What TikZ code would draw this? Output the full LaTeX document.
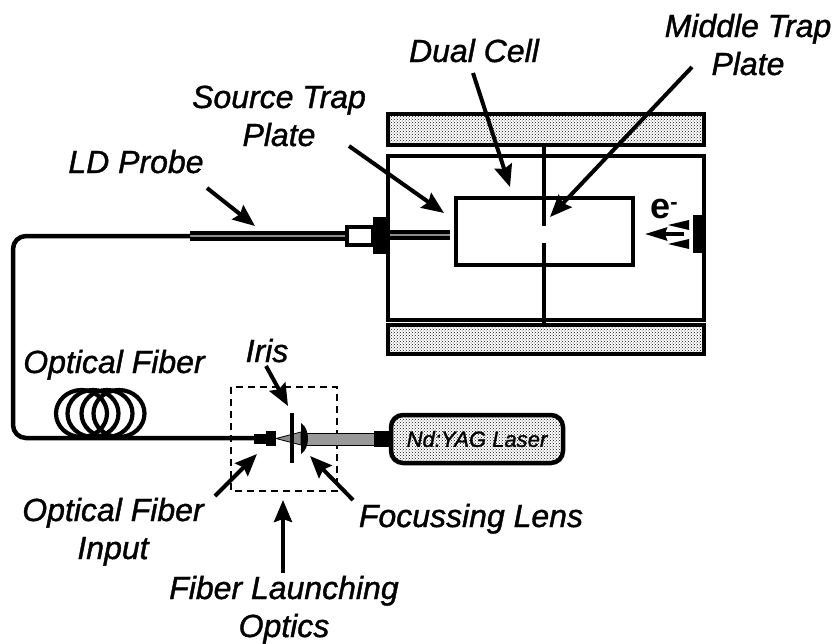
\documentclass[tikz,border=0pt]{standalone}
\usepackage{fontspec}
\usepackage{tikz}
\usetikzlibrary{arrows.meta}
\usetikzlibrary{patterns}
\newfontfamily\lblfont[FakeBold=1.2]{Liberation Sans Italic}
\newfontfamily\efont{Liberation Sans Bold}

\tikzset{
	lbl/.style={inner sep=0pt,align=center,font=\lblfont\fontsize{32}{38}\selectfont},
	pointer/.style={line width=4pt,-{Stealth[length=22pt,width=18pt,inset=3pt]}},
	wall/.style={line width=4.5pt},
	dotfill/.style={pattern=crosshatch dots,pattern color=black!95}
}

\begin{document}
\begin{tikzpicture}[x=1pt,y=-1pt]
	\useasboundingbox (0,0) rectangle (835,643);

	% magnets and chamber
	\foreach \top/\bottom in {114/145, 325/354} {
		\draw[wall,dotfill] (388,\top) rectangle (704,\bottom);
	}
	\draw[wall] (388,156) rectangle (704,320);
	\draw[wall] (456,198) rectangle (633,265);
	\draw[wall] (544,145) -- (544,226);
	\draw[wall] (544,243) -- (544,325);

	% filament
	\fill (693,215) rectangle (702,253);
	\foreach \ypos in {225,244} {
		\fill (668,\ypos) -- (689,\ypos-5) -- (689,\ypos+5) -- cycle;
	}
	\coordinate (beamStart) at (684,234);
	\coordinate (beamTip) at (645,234);
	\draw[line width=3.4pt,-{Stealth[length=22pt,width=13pt,inset=2pt]}] (beamStart) -- (beamTip);
	\node[anchor=base,inner sep=0pt,font=\efont\fontsize{36}{36}\selectfont] (eMinus) at (664,218) {e\raisebox{9pt}{\fontsize{22}{22}\selectfont-}};

	% probe
	\draw[line width=10pt] (190,236) -- (346,236);
	\draw[line width=1.2pt,black!45] (190,236) -- (346,236);
	\draw[line width=10pt] (390,235) -- (450,235);
	\draw[line width=1.2pt,black!45] (390,235) -- (450,235);
	\draw[line width=3.6pt,fill=white] (347,227) rectangle (373,245);
	\fill (373,217) rectangle (390,254);

	% fiber
	\coordinate (fiberTop) at (190,236);
	\coordinate (fiberEnd) at (256,438);
	\draw[line width=4.5pt,rounded corners=13pt] (fiberTop) -- (13,236) -- (13,438) -- (fiberEnd);
	\foreach \position in {81.5,93,107,119} {
		\draw[line width=4.2pt] (\position,413.5) ellipse (25.5 and 23.5);
	}

	% launching optics
	\draw[line width=1.3pt,dash pattern=on 7pt off 5pt] (231,387) rectangle (337,491);
	\fill (254,434) rectangle (266,444);
	\fill (266,431) rectangle (276,446);
	\draw[line width=.8pt,fill=black!45] (276,438.5) -- (301,432) -- (301,445) -- cycle;
	\draw[line width=.8pt,fill=black!40] (305,433) rectangle (375,445);
	\draw[wall] (292,413) -- (292,463);
	\fill (301,423) .. controls (306,426) and (308,433) .. (308,438.5) .. controls (308,444) and (306,451) .. (301,454) -- cycle;
	\fill (374,431) rectangle (392,447);
	\draw[wall,dotfill,rounded corners=12pt] (391,415) rectangle (563,463);
	\node[inner sep=0pt,font=\lblfont\fontsize{22}{22}\selectfont] (laser) at (477,439) {Nd:YAG Laser};

	% labels
	\node[lbl,anchor=base] (lblMiddle) at (748,75) {Middle Trap\\Plate};
	\node[lbl,anchor=base] (lblDual) at (474,62) {Dual Cell};
	\node[lbl,anchor=base] (lblSource) at (279,146) {Source Trap\\Plate};
	\node[lbl,anchor=base] (lblProbe) at (136,173) {LD Probe};
	\node[lbl,anchor=base] (lblFiber) at (114,373) {Optical Fiber};
	\node[lbl,anchor=base] (lblIris) at (267,362) {Iris};
	\node[lbl,anchor=base] (lblInput) at (113,559) {Optical Fiber\\Input};
	\node[lbl,anchor=base] (lblLens) at (471,527) {Focussing Lens};
	\node[lbl,anchor=base] (lblLaunch) at (284,637) {Fiber Launching\\Optics};

	% pointer ends
	\coordinate (tailMiddle) at (692,67);
	\coordinate (tipMiddle) at (550,217);
	\coordinate (tailDual) at (473,73);
	\coordinate (tipDual) at (510,187);
	\coordinate (tailSource) at (349,146);
	\coordinate (tipSource) at (444,213);
	\coordinate (tailProbe) at (207,188);
	\coordinate (tipProbe) at (255,226);
	\coordinate (tailIris) at (266,366);
	\coordinate (tipIris) at (288,406);
	\coordinate (tailInput) at (215,496);
	\coordinate (tipInput) at (257,454);
	\coordinate (tailLens) at (353,500);
	\coordinate (tipLens) at (310,456);
	\coordinate (tailLaunch) at (283,573);
	\coordinate (tipLaunch) at (283,500);

	\foreach \from/\to in {tailMiddle/tipMiddle, tailDual/tipDual, tailSource/tipSource, tailProbe/tipProbe, tailIris/tipIris, tailInput/tipInput, tailLens/tipLens, tailLaunch/tipLaunch} {
		\draw[pointer] (\from) -- (\to);
	}
\end{tikzpicture}
\end{document}
